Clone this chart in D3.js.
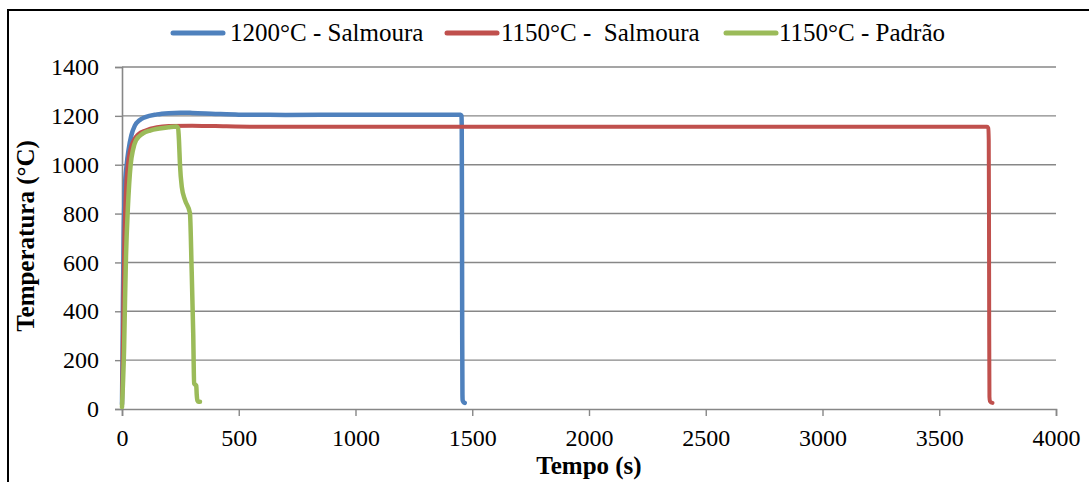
<!DOCTYPE html>
<html>
<head>
<meta charset="utf-8">
<script src="https://cdn.jsdelivr.net/npm/d3@7"></script>
<style>
  html, body { margin: 0; padding: 0; background: #fff; }
  svg { display: block; }
  svg text { font-family: "Liberation Serif", "Times New Roman", serif; fill: #000; }
</style>
</head>
<body>
<svg id="chart" width="1089" height="482"></svg>
<script>
// Temperature history of each run: [time (s), temperature (°C)]
const seriesNames = ["1200°C - Salmoura", "1150°C -  Salmoura", "1150°C - Padrão"];

const salmoura1200 = [
  [0, 20], [2, 200], [4, 450], [7, 700], [12, 900], [20, 1000], [28, 1060],
  [40, 1120], [55, 1160], [75, 1182], [100, 1195], [150, 1206], [200, 1211],
  [250, 1213], [300, 1212], [400, 1208], [500, 1205], [700, 1204], [1000, 1205],
  [1200, 1205], [1400, 1205], [1450, 1205], [1454, 1200], [1455, 1150],
  [1456, 800], [1457, 300], [1458, 60], [1459, 35], [1463, 28], [1468, 25]
];

const salmoura1150 = [
  [0, 12], [3, 200], [6, 450], [10, 700], [16, 880], [25, 1000], [35, 1060],
  [50, 1100], [70, 1125], [100, 1140], [150, 1153], [200, 1158], [300, 1160],
  [400, 1158], [600, 1155], [1000, 1155], [2000, 1155], [3000, 1155],
  [3500, 1155], [3705, 1155], [3710, 1150], [3712, 1100], [3713, 800],
  [3714, 300], [3715, 50], [3717, 32], [3722, 27], [3728, 25]
];

const padrao1150 = [
  [0, 8], [4, 100], [9, 250], [13, 450], [17, 620], [25, 820], [37, 1000],
  [47, 1060], [60, 1100], [90, 1128], [120, 1140], [160, 1148], [200, 1153],
  [234, 1156], [240, 1150], [244, 1100], [248, 1005], [256, 910], [270, 855],
  [291, 802], [298, 580], [305, 310], [309, 105], [313, 100], [318, 95],
  [320, 60], [323, 35], [328, 30], [334, 30]
];

const xTicks = [0, 500, 1000, 1500, 2000, 2500, 3000, 3500, 4000];
const yTicks = [0, 200, 400, 600, 800, 1000, 1200, 1400];
const colors = ["#4F81BD", "#C0504D", "#9BBB59"];

const svg = d3.select("#chart");
const W = 1089, H = 482;

// Chart frame
svg.append("path")
  .attr("d", `M8,${H} V10 H${W}`)
  .attr("fill", "none").attr("stroke", "#000").attr("stroke-width", 2);

const plot = { left: 122, right: 1056, top: 67, bottom: 409 };

const x = d3.scaleLinear().domain([0, 4000]).range([plot.left, plot.right]);
const y = d3.scaleLinear().domain([0, 1400]).range([plot.bottom, plot.top]);

// Horizontal gridlines
svg.append("g")
  .selectAll("line")
  .data(yTicks.filter(d => d > 0))
  .join("line")
  .attr("x1", plot.left).attr("x2", plot.right)
  .attr("y1", d => y(d)).attr("y2", d => y(d))
  .attr("stroke", "#878787").attr("stroke-width", 1.4);

// Axes
const xAxis = svg.append("g")
  .attr("transform", `translate(0,${plot.bottom})`)
  .call(d3.axisBottom(x).tickValues(xTicks).tickSize(7).tickPadding(13).tickFormat(d3.format("d")));
const yAxis = svg.append("g")
  .attr("transform", `translate(${plot.left},0)`)
  .call(d3.axisLeft(y).tickValues(yTicks).tickSize(7).tickPadding(16).tickFormat(d3.format("d")));

[xAxis, yAxis].forEach(g => {
  g.attr("font-family", null).attr("font-size", null);
  g.select(".domain").attr("stroke", "#878787").attr("stroke-width", 1.6);
  g.selectAll(".tick line").attr("stroke", "#878787").attr("stroke-width", 1.4);
  g.selectAll(".tick text")
    .attr("fill", "#000")
    .style("font-size", "24px");
});
yAxis.selectAll(".tick text").attr("dy", "0.32em");
xAxis.selectAll(".tick text").attr("dy", "0.71em");

// Axis titles
svg.append("text")
  .attr("x", 589).attr("y", 474)
  .attr("text-anchor", "middle")
  .style("font-size", "25px").style("font-weight", "bold")
  .text("Tempo (s)");

svg.append("text")
  .attr("transform", "translate(34,236) rotate(-90)")
  .attr("text-anchor", "middle")
  .style("font-size", "25px").style("font-weight", "bold")
  .text("Temperatura (°C)");

// Series lines
const line = d3.line().x(d => x(d[0])).y(d => y(d[1])).curve(d3.curveMonotoneX);
const series = [salmoura1200, salmoura1150, padrao1150];
const widths = [4.5, 4, 4.5];

series.forEach((data, i) => {
  svg.append("path")
    .datum(data)
    .attr("fill", "none")
    .attr("stroke", colors[i])
    .attr("stroke-width", widths[i])
    .attr("stroke-linejoin", "round")
    .attr("stroke-linecap", "round")
    .attr("d", line);
});

// Legend
const legendItems = [
  { x: 173, textX: 230 },
  { x: 447, textX: 501 },
  { x: 726, textX: 779 }
];
const legend = svg.append("g");
legendItems.forEach((it, i) => {
  legend.append("line")
    .attr("x1", it.x).attr("x2", it.x + 50)
    .attr("y1", 33).attr("y2", 33)
    .attr("stroke", colors[i]).attr("stroke-width", 5)
    .attr("stroke-linecap", "round");
  legend.append("text")
    .attr("x", it.textX).attr("y", 41)
    .style("font-size", "25px")
    .style("white-space", "pre")
    .attr("xml:space", "preserve")
    .text(seriesNames[i]);
});
</script>
</body>
</html>
